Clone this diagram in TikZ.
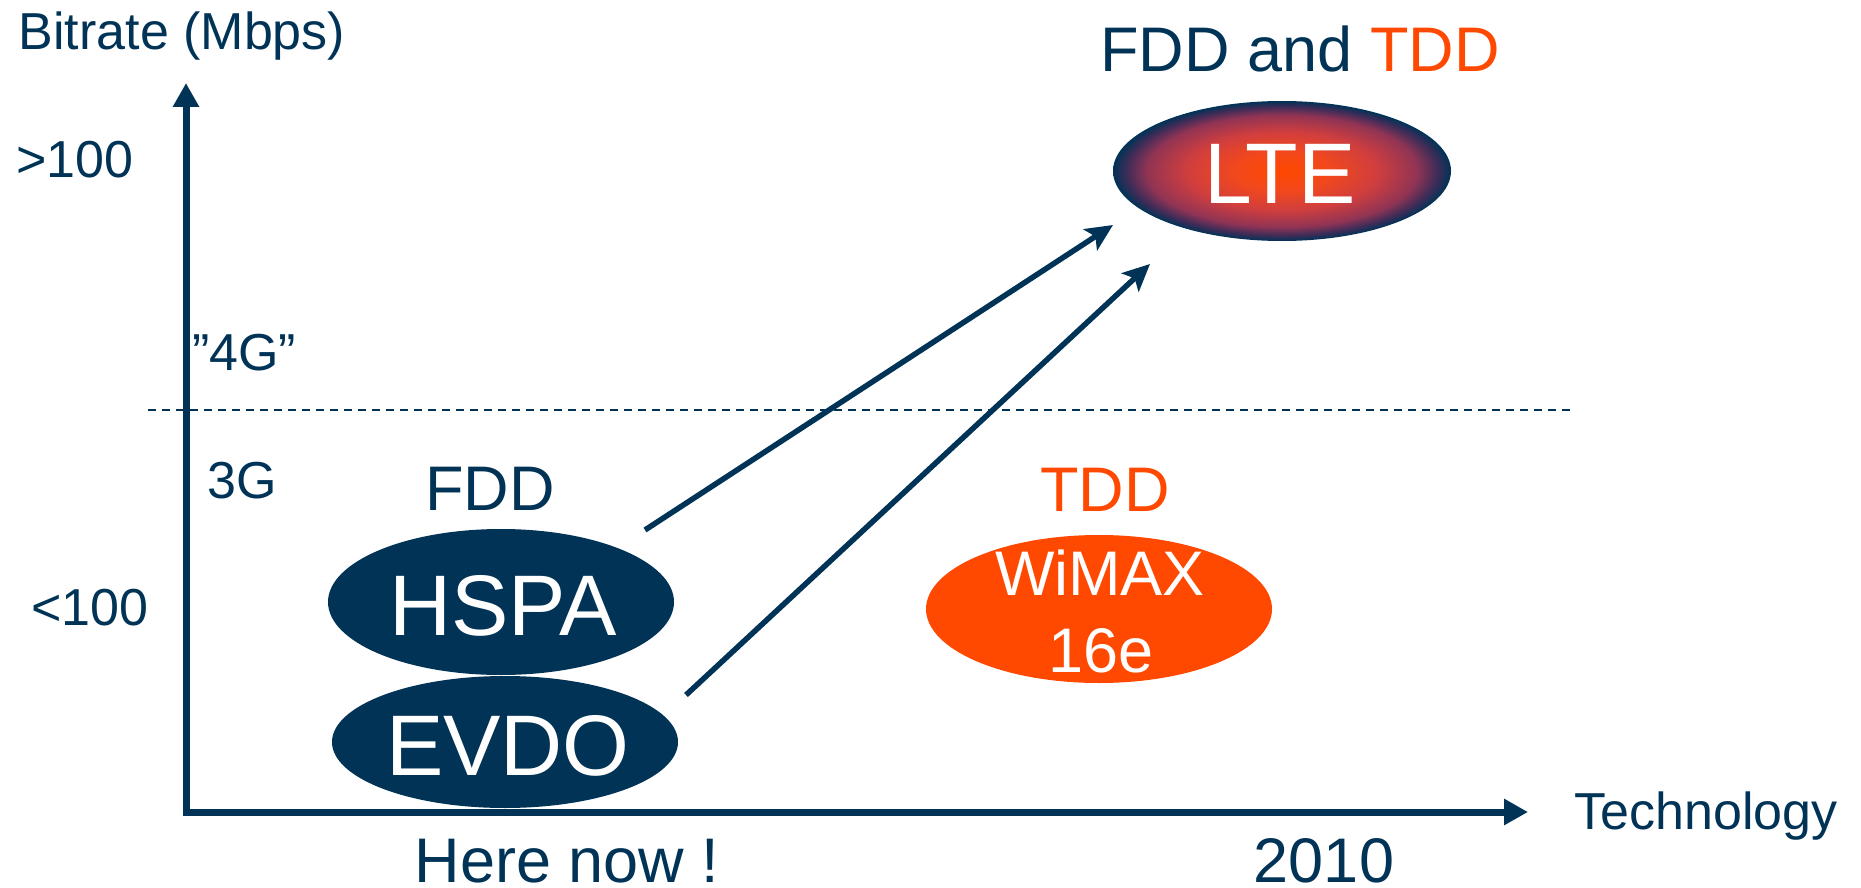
\documentclass[tikz,border=0pt]{standalone}
\usepackage{fontspec}
\setmainfont{Liberation Sans}
\usetikzlibrary{arrows.meta,shapes.geometric}

\definecolor{navy}{HTML}{003356}
\definecolor{tangerine}{HTML}{FF4800}
\definecolor{glowA}{RGB}{242,72,28}
\definecolor{glowB}{RGB}{208,62,62}
\definecolor{glowC}{RGB}{145,52,84}
\definecolor{glowD}{RGB}{62,44,88}

% glow used inside the LTE ellipse: orange core fading to navy at the rim
\pgfdeclareradialshading{ltecore}{\pgfpoint{0bp}{0bp}}{%
  color(0bp)=(tangerine);
  color(7bp)=(glowA);
  color(14bp)=(glowB);
  color(20bp)=(glowC);
  color(23bp)=(glowD);
  color(25bp)=(navy);
  color(50bp)=(navy)}

\tikzset{
  lbl/.style={font=\fontsize{52}{60}\selectfont, text=navy, inner sep=0pt, anchor=base},
  midlbl/.style={font=\fontsize{63}{72}\selectfont, text=navy, inner sep=0pt, anchor=base},
  biglbl/.style={font=\fontsize{86}{96}\selectfont, text=white, inner sep=0pt, anchor=base},
  oval/.style={ellipse, inner sep=0pt, draw=none},
  axis/.style={draw=navy, line width=7pt, line join=miter,
    {Triangle[length=24pt,width=25pt]}-{Triangle[length=24pt,width=25pt]}},
  move/.style={draw=navy, line width=5.5pt,
    -{Stealth[length=27pt,width=25pt,inset=6pt]}},
  border/.style={draw=navy, line width=1.6pt, dash pattern=on 8pt off 6pt}
}

\begin{document}
\begin{tikzpicture}[x=1pt,y=-1pt]
\useasboundingbox (0,0) rectangle (1861,888);

% axes
\coordinate (ytop) at (186,83);
\coordinate (origin) at (186,812);
\coordinate (xend) at (1528,812);
\draw[axis] (ytop) -- (origin) -- (xend);

% 3G / 4G border
\coordinate (bordL) at (148,410);
\coordinate (bordR) at (1570,410);
\draw[border] (bordL) -- (bordR);

% axis labels
\node[lbl] (ytitle) at (182,50) {Bitrate (Mbps)};
\node[lbl] (high) at (75,177) {>100};
\node[lbl] (low) at (90,625) {<100};
\node[lbl] (fourg) at (244,370) {”4G”};
\node[lbl] (threeg) at (242,498) {3G};
\node[lbl] (xtitle) at (1706,829) {Technology};
\node[midlbl] (now) at (567,882) {Here now !};
\node[midlbl] (year) at (1324,882) {2010};

% technologies
\node[oval, fill=navy, minimum width=346pt, minimum height=146pt] (hspa) at (501,602) {};
\node[oval, fill=navy, minimum width=346pt, minimum height=132pt] (evdo) at (505,742) {};
\node[oval, shading=ltecore, minimum width=338pt, minimum height=140pt] (lte) at (1282,171) {};
\node[oval, fill=tangerine, minimum width=346pt, minimum height=148pt] (wimax) at (1099,609) {};

\node[biglbl] (hspatxt) at (503,635) {HSPA};
\node[biglbl] (evdotxt) at (508,775) {EVDO};
\node[biglbl] (ltetxt) at (1280,203) {LTE};
\node[midlbl, text=white] (wimaxtxt) at (1100,595) {WiMAX};
\node[midlbl, text=white] (wimaxver) at (1101,672) {16e};

\node[midlbl] (fdd) at (490,510) {FDD};
\node[midlbl, text=tangerine] (tdd) at (1105,511) {TDD};
\node[midlbl] (ltemode) at (1300,72) {FDD and \textcolor{tangerine}{TDD}};

% evolution paths towards LTE
\coordinate (fromhspa) at (645,530);
\coordinate (fromevdo) at (686,695);
\coordinate (intolte1) at (1113,225);
\coordinate (intolte2) at (1150,264);
\draw[move] (fromhspa) -- (intolte1);
\draw[move] (fromevdo) -- (intolte2);
\end{tikzpicture}
\end{document}
